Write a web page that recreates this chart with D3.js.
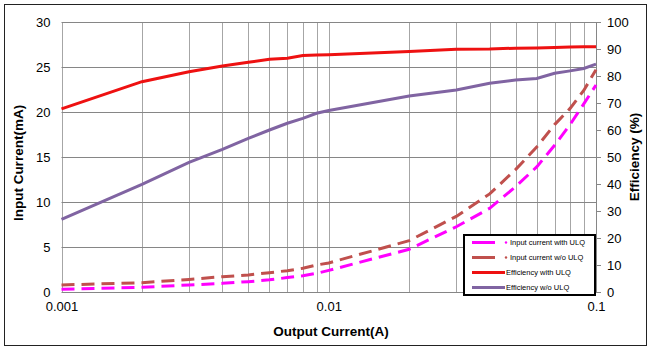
<!DOCTYPE html>
<html>
<head>
<meta charset="utf-8">
<script src="https://cdn.jsdelivr.net/npm/d3@7"></script>
<style>
  body { margin: 0; background: #fff; }
  svg { display: block; font-family: "Liberation Sans", Arial, sans-serif; }
</style>
</head>
<body>
<svg width="653" height="352"></svg>
<script>
// output current (A), log axis
const outputCurrent = [0.001, 0.002, 0.003, 0.004, 0.005, 0.006, 0.007, 0.008, 0.009,
    0.01, 0.02, 0.03, 0.04, 0.05, 0.06, 0.07, 0.08, 0.09, 0.1]
// input current (mA)
const inputWithULQ = [0.3, 0.52, 0.78, 0.96, 1.15, 1.35, 1.6, 1.8, 2.07,
    2.4, 4.75, 7.25, 9.3, 11.7, 13.9, 16.3, 18.6, 20.9, 23.0]
const inputWithoutULQ = [0.78, 1.03, 1.4, 1.7, 1.9, 2.15, 2.37, 2.63, 3.0,
    3.23, 5.7, 8.4, 10.9, 13.6, 16.1, 18.6, 20.4, 22.4, 24.7]
// efficiency (%)
const effWithULQ = [67.8, 77.9, 81.6, 83.7, 85.1, 86.2, 86.6, 87.6, 87.8,
    87.9, 89.1, 89.9, 90.0, 90.3, 90.4, 90.6, 90.7, 90.8, 90.8]
const effWithoutULQ = [26.9, 39.9, 48.0, 52.8, 56.9, 60.0, 62.5, 64.3, 66.2,
    67.2, 72.6, 74.8, 77.3, 78.5, 79.1, 81.0, 81.9, 82.8, 84.4]

const leftTicks = [0, 5, 10, 15, 20, 25, 30]
const rightTicks = [0, 10, 20, 30, 40, 50, 60, 70, 80, 90, 100]
const xTicks = [0.001, 0.01, 0.1]

const series = [
    {name: "Input current with ULQ", values: inputWithULQ, axis: "left", color: "#ff00ff", dash: "13,7", marker: true},
    {name: "Input current w/o ULQ", values: inputWithoutULQ, axis: "left", color: "#c0504d", dash: "13,7", marker: true},
    {name: "Efficiency with ULQ", values: effWithULQ, axis: "right", color: "#ee1111", dash: null},
    {name: "Efficiency w/o ULQ", values: effWithoutULQ, axis: "right", color: "#8064a2", dash: null}
]

const svg = d3.select("svg")
const m = {left: 61.5, right: 596, top: 22, bottom: 292}

const x = d3.scaleLog().domain([0.001, 0.1]).range([m.left, m.right])
const yL = d3.scaleLinear().domain([0, 30]).range([m.bottom, m.top])
const yR = d3.scaleLinear().domain([0, 100]).range([m.bottom, m.top])

// outer border
svg.append("rect")
    .attr("x", 4.5).attr("y", 4.5)
    .attr("width", 642).attr("height", 341)
    .style("fill", "#fff")
    .style("stroke", "#222")
    .style("stroke-width", 1)

// vertical grid (minor log lines)
const gridX = []
;[0.001, 0.01].forEach(dec => {
    for (let k = 1; k <= 10; k++) gridX.push(dec * k)
})
svg.append("g")
    .selectAll("line.vgrid")
    .data(gridX)
    .enter()
    .append("line")
    .attr("class", "vgrid")
    .attr("x1", d => Math.round(x(d)) + 0.5)
    .attr("x2", d => Math.round(x(d)) + 0.5)
    .attr("y1", m.top)
    .attr("y2", m.bottom)
    .style("stroke", "#a6a6a6")
    .style("stroke-width", 1)

// horizontal grid
svg.append("g")
    .selectAll("line.hgrid")
    .data(leftTicks)
    .enter()
    .append("line")
    .attr("class", "hgrid")
    .attr("x1", m.left)
    .attr("x2", m.right)
    .attr("y1", d => Math.round(yL(d)) + 0.5)
    .attr("y2", d => Math.round(yL(d)) + 0.5)
    .style("stroke", "#868686")
    .style("stroke-width", 1)

// left axis
const leftAxis = svg.append("g")
    .attr("transform", `translate(${m.left},0)`)
    .call(d3.axisLeft(yL).tickValues(leftTicks).tickSize(0).tickPadding(11))
leftAxis.select(".domain").remove()
leftAxis.selectAll("text").style("font-size", "13px").style("fill", "#000")

// right axis
const rightAxis = svg.append("g")
    .attr("transform", `translate(${m.right},0)`)
    .call(d3.axisRight(yR).tickValues(rightTicks).tickSize(5).tickPadding(6))
rightAxis.select(".domain").attr("stroke", "#868686")
rightAxis.selectAll("line").attr("stroke", "#868686")
rightAxis.selectAll("text").style("font-size", "13px").style("fill", "#000")

// bottom axis
const bottomAxis = svg.append("g")
    .attr("transform", `translate(0,${m.bottom})`)
    .call(d3.axisBottom(x).tickValues(xTicks).tickFormat(d3.format("")).tickSize(0).tickPadding(10))
bottomAxis.select(".domain").attr("stroke", "#868686")
bottomAxis.selectAll("text").style("font-size", "13px").style("fill", "#000")

// axis titles
svg.append("text")
    .text("Input Current(mA)")
    .attr("transform", "translate(23,163) rotate(-90)")
    .style("text-anchor", "middle")
    .style("font-weight", "bold")
    .style("font-size", "13.5px")

svg.append("text")
    .text("Efficiency (%)")
    .attr("transform", "translate(639,157) rotate(-90)")
    .style("text-anchor", "middle")
    .style("font-weight", "bold")
    .style("font-size", "13.5px")

svg.append("text")
    .text("Output Current(A)")
    .attr("x", 331)
    .attr("y", 336)
    .style("text-anchor", "middle")
    .style("font-weight", "bold")
    .style("font-size", "13.5px")

// lines
const lineGroup = svg.append("g")
series.forEach(s => {
    const yScale = s.axis === "left" ? yL : yR
    const line = d3.line()
        .x((d, i) => x(outputCurrent[i]))
        .y(d => yScale(d))
    lineGroup.append("path")
        .datum(s.values)
        .attr("d", line)
        .style("fill", "none")
        .style("stroke", s.color)
        .style("stroke-width", 3)
        .style("stroke-dasharray", s.dash)
})

// legend
const legend = svg.append("g").attr("transform", "translate(464,235)")
legend.append("rect")
    .attr("width", 131)
    .attr("height", 60)
    .style("fill", "#fff")
    .style("stroke", "#000")
    .style("stroke-width", 2)

const items = legend.selectAll("g.item")
    .data(series)
    .enter()
    .append("g")
    .attr("class", "item")
    .attr("transform", (d, i) => `translate(0, ${7.5 + i * 15})`)

items.append("line")
    .attr("x1", 8)
    .attr("x2", d => d.dash ? 31 : 41)
    .style("stroke", d => d.color)
    .style("stroke-width", 3)

items.filter(d => d.marker)
    .append("circle")
    .attr("cx", 42)
    .attr("r", 1.2)
    .style("fill", d => d.color)

items.append("text")
    .text(d => d.name)
    .attr("x", d => d.marker ? 46 : 42)
    .attr("dy", "0.35em")
    .style("font-size", "7.5px")
    .style("fill", "#000")
</script>
</body>
</html>
